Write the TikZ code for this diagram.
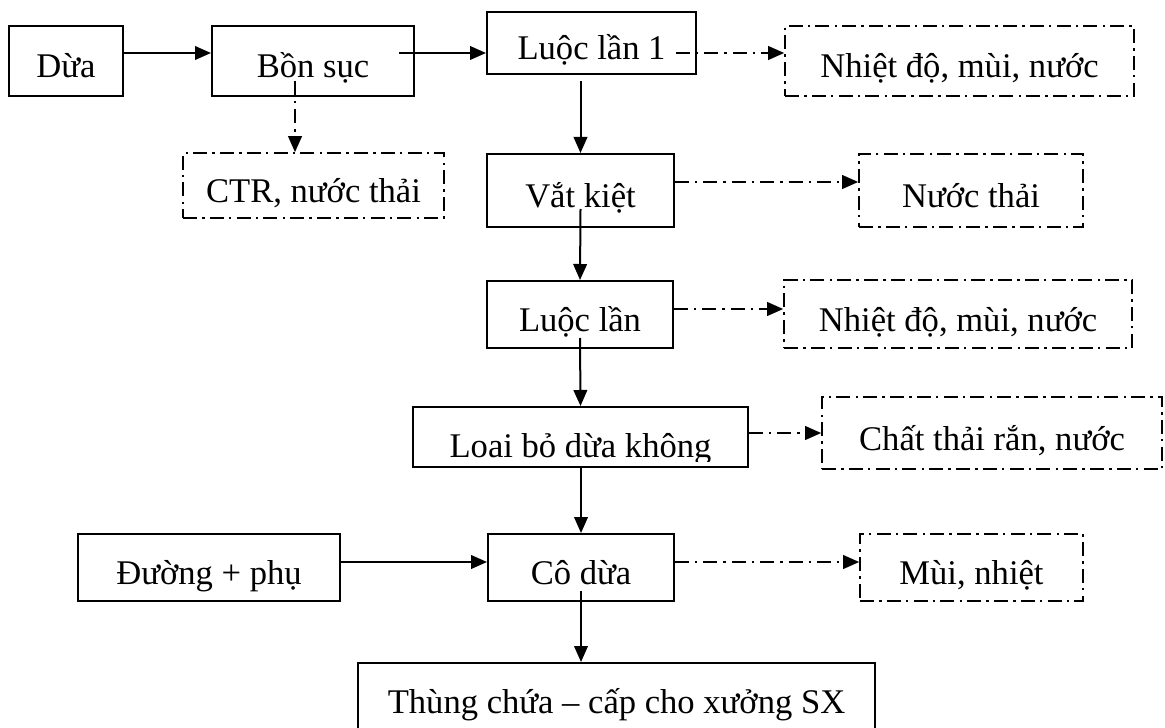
\documentclass[tikz,border=0pt]{standalone}
\usepackage{fontspec}
\setmainfont{Liberation Serif}
\usetikzlibrary{arrows.meta,calc}
\begin{document}
\begin{tikzpicture}[x=0.5pt,y=-0.5pt,
  every node/.style={font=\fontsize{17.3}{20}\selectfont, text height=17.5pt, text depth=0.5pt, inner sep=0pt},
  pbox/.style 2 args={draw, line width=1pt, minimum width=#1*0.5pt, minimum height=#2*0.5pt},
  dbox/.style 2 args={draw, line width=0.8pt, dash pattern=on 7pt off 2.6pt on 1.2pt off 2.6pt, minimum width=#1*0.5pt, minimum height=#2*0.5pt},
  sarr/.style={line width=1pt, -{Triangle[length=8pt,width=6.8pt]}},
  darr/.style={sarr, dash pattern=on 7pt off 3pt on 1.2pt off 3pt},
]
\clip (0,0) rectangle (1165,727);
% process boxes
\node[pbox={114}{70}] (dua) at (66,61) {Dừa};
\node[pbox={202}{70}] (bon) at (313,61) {Bồn sục};
\node[pbox={209}{62}] (l1) at (591.5,43) {Luộc lần 1};
\node[dbox={349}{70}] (n1) at (959.5,61) {Nhiệt độ, mùi, nước};
\node[dbox={261}{65}] (ctr) at (313.5,185.5) {CTR, nước thải};
\node[pbox={187}{73}] (vk) at (580.5,190.5) {Vắt kiệt};
\node[dbox={224}{73}] (nt) at (971,190.5) {Nước thải};
\node[pbox={186}{67}] (l2) at (580,314.5) {Luộc lần};
\node[dbox={348}{68}] (n2) at (958,314) {Nhiệt độ, mùi, nước};
\node[pbox={335}{60}] (lb) at (580.5,437) {};
\node[dbox={340}{72}] (ct) at (992,433) {Chất thải rắn, nước};
\node[pbox={262}{67}] (dg) at (209,567.5) {Đường + phụ};
\node[pbox={186}{67}] (cd) at (581,567.5) {Cô dừa};
\node[dbox={223}{67}] (mn) at (971.5,567.5) {Mùi, nhiệt};
\node[draw, line width=1pt, minimum width=258.5pt, text height=25pt, text depth=40pt, anchor=north] (th) at (616.5,662) {Thùng chứa – cấp cho xưởng SX};
% clipped text of the "Loai bo" box
\coordinate (yclip) at (0,461);
\begin{scope}
  \clip (lb.north west) rectangle (lb.east |- yclip);
  \node[yshift=-1.5pt] (lbt) at (lb.center) {Loai bỏ dừa không};
\end{scope}
% rows for connectors
\coordinate (r53) at (0,53);
\coordinate (r182) at (0,182);
\coordinate (r309) at (0,309);
\coordinate (r433) at (0,433);
\coordinate (r562) at (0,562);
\coordinate (c295) at (295,0);
% connectors
\draw[sarr] (dua.east |- r53) -- (bon.west |- r53);
\draw[sarr] ($(bon.east |- r53)+(-16,0)$) -- (l1.west |- r53);
\draw[darr] ($(l1.east |- r53)+(-21,0)$) -- (n1.west |- r53);
\draw[darr] ($(c295 |- bon.south)+(0,-16)$) -- (c295 |- ctr.north);
\draw[sarr] ($(vk.north |- l1.south)+(0,6)$) -- (vk.north);
\draw[darr] (vk.east |- r182) -- (nt.west |- r182);
\draw[sarr] ($(vk.south)+(0,-19)$) -- (l2.north);
\draw[darr] (l2.east |- r309) -- (n2.west |- r309);
\draw[sarr] ($(l2.south)+(0,-11)$) -- (lb.north);
\draw[darr] (lb.east |- r433) -- (ct.west |- r433);
\draw[sarr] (cd.north |- lb.south) -- (cd.north);
\draw[sarr] (dg.east |- r562) -- (cd.west |- r562);
\draw[darr] (cd.east |- r562) -- (mn.west |- r562);
\draw[sarr] ($(cd.south)+(0,-11)$) -- (cd.south |- th.north);
\end{tikzpicture}
\end{document}
